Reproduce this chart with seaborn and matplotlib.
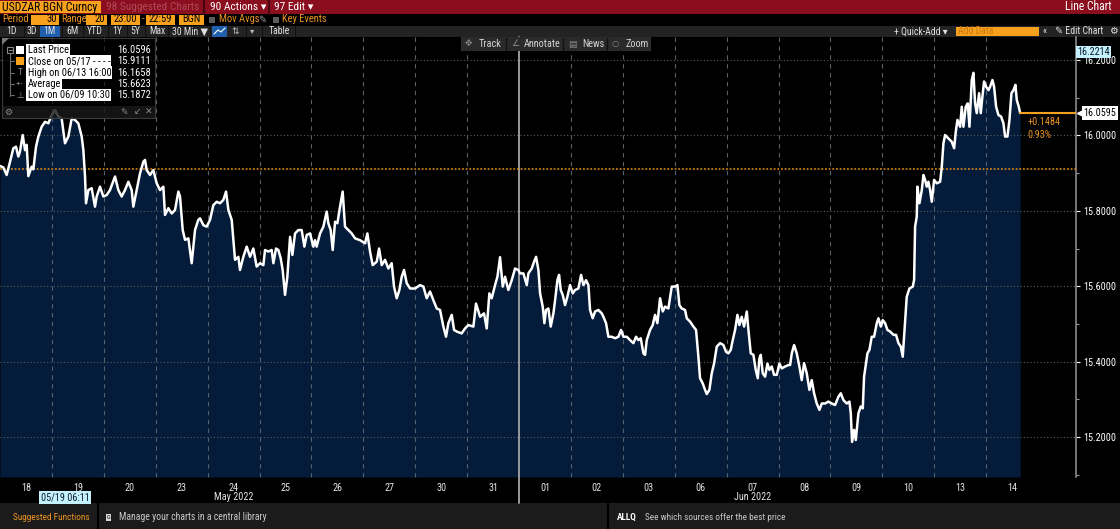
import matplotlib
matplotlib.use("Agg")
import matplotlib.pyplot as plt
import matplotlib.patches as mpatches
import matplotlib.transforms as mtransforms
from matplotlib import font_manager
import numpy as np
import pandas as pd
import seaborn as sns

# ---- data (30 min bars, USDZAR) ----
# time in trading-day slots since 05/18 00:00
t_days = [
    0.000, 0.064, 0.128, 0.193, 0.257, 0.308, 0.353, 0.385, 0.437, 0.482,
    0.514, 0.546, 0.610, 0.642, 0.694, 0.739, 0.803, 0.867, 0.931, 0.996,
    1.060, 1.124, 1.188, 1.252, 1.317, 1.381, 1.445, 1.509, 1.574, 1.606,
    1.638, 1.657, 1.702, 1.766, 1.830, 1.863, 1.927, 1.991, 2.055, 2.119,
    2.216, 2.280, 2.344, 2.408, 2.473, 2.537, 2.569, 2.633, 2.697, 2.762,
    2.794, 2.826, 2.890, 2.954, 3.019, 3.083, 3.147, 3.179, 3.243, 3.308,
    3.372, 3.436, 3.468, 3.520, 3.565, 3.629, 3.693, 3.757, 3.821, 3.854,
    3.918, 3.982, 4.046, 4.110, 4.175, 4.239, 4.303, 4.355, 4.400, 4.464,
    4.528, 4.592, 4.624, 4.688, 4.753, 4.817, 4.881, 4.945, 5.010,
    5.074, 5.106, 5.170, 5.234, 5.267, 5.318, 5.363, 5.408, 5.446, 5.491,
    5.536, 5.588, 5.633, 5.684, 5.748, 5.812, 5.864, 5.909, 5.973, 6.037,
    6.069, 6.101, 6.166, 6.230, 6.294, 6.326, 6.371, 6.410, 6.455, 6.500,
    6.551, 6.602, 6.647, 6.712, 6.776, 6.840, 6.936, 7.033, 7.078, 7.129,
    7.180, 7.258, 7.303, 7.354, 7.418, 7.482, 7.546, 7.591, 7.643, 7.694,
    7.739, 7.784, 7.836, 7.900, 7.996, 8.092, 8.157, 8.221, 8.285, 8.349,
    8.414, 8.478, 8.542, 8.593, 8.638, 8.703, 8.748, 8.812, 8.895, 8.959,
    9.024, 9.120, 9.171, 9.249, 9.325, 9.377, 9.428, 9.473, 9.538, 9.583,
    9.634, 9.685, 9.730, 9.794, 9.859, 9.923, 9.987,
    10.019, 10.084, 10.148, 10.180, 10.244, 10.289, 10.328, 10.373, 10.405, 10.456,
    10.488, 10.520, 10.565, 10.610, 10.662, 10.694, 10.739, 10.771, 10.803, 10.841,
    10.886, 10.931, 10.983, 11.034, 11.079, 11.143, 11.195, 11.240, 11.291, 11.336,
    11.368, 11.419, 11.464, 11.529, 11.593, 11.625, 11.676, 11.721, 11.786, 11.850,
    11.914, 11.965, 12.010, 12.075, 12.139, 12.203, 12.254, 12.299, 12.344, 12.396,
    12.428, 12.460, 12.524, 12.575, 12.620, 12.665, 12.717, 12.768, 12.813, 12.877,
    12.942, 13.006, 13.051, 13.089, 13.134, 13.198, 13.231, 13.295, 13.359, 13.410,
    13.455, 13.487, 13.539, 13.584, 13.616, 13.667, 13.712, 13.757, 13.809, 13.873,
    13.937, 13.988, 14.033, 14.078, 14.117, 14.162, 14.207, 14.245, 14.290, 14.335,
    14.387, 14.419, 14.464, 14.515, 14.560, 14.599, 14.631, 14.656, 14.695, 14.740,
    14.785, 14.823, 14.868, 14.913, 14.965, 15.016, 15.061, 15.125, 15.189,
    15.222, 15.254, 15.299, 15.350, 15.401, 15.446, 15.491, 15.543, 15.594, 15.639,
    15.684, 15.735, 15.787, 15.832, 15.896, 15.960, 16.024, 16.089, 16.153, 16.198,
    16.249, 16.313, 16.365, 16.391, 16.416, 16.455, 16.487, 16.538, 16.583, 16.622,
    16.647, 16.712, 16.750, 16.795, 16.840, 16.892, 16.924, 16.969, 17.007, 17.052,
    17.097, 17.148, 17.213, 17.264, 17.309, 17.354, 17.392, 17.431, 17.469, 17.521,
    17.585, 17.611, 17.630, 17.662, 17.675, 17.714, 17.759, 17.791, 17.823, 17.855,
    17.887, 17.919, 17.951, 17.996, 18.048, 18.112, 18.144, 18.176, 18.208, 18.272,
    18.337, 18.382, 18.414, 18.446, 18.497, 18.529, 18.561, 18.606, 18.645, 18.677,
    18.722, 18.754, 18.786, 18.818, 18.863, 18.895, 18.927, 18.959, 18.998, 19.043,
    19.075, 19.120, 19.152, 19.191, 19.236, 19.287, 19.332, 19.364, 19.409, 19.448,
    19.486, 19.525, 19.563, 19.589, 19.628, 19.653,
]
usdzar = [
    15.919, 15.915, 15.895, 15.930, 15.966, 15.970, 15.944, 15.957, 16.001, 15.961,
    15.975, 15.892, 15.917, 15.910, 15.970, 15.997, 16.023, 16.036, 16.032, 16.054,
    16.067, 16.050, 16.045, 15.979, 15.997, 16.045, 16.041, 16.032, 15.997, 15.961,
    15.891, 15.820, 15.855, 15.860, 15.811, 15.838, 15.864, 15.838, 15.842, 15.855,
    15.891, 15.855, 15.838, 15.855, 15.877, 15.855, 15.811, 15.855, 15.899, 15.930,
    15.935, 15.908, 15.895, 15.908, 15.873, 15.855, 15.864, 15.789, 15.807, 15.793,
    15.802, 15.851, 15.838, 15.749, 15.723, 15.727, 15.661, 15.749, 15.776, 15.780,
    15.762, 15.758, 15.776, 15.815, 15.824, 15.820, 15.829, 15.851, 15.802, 15.776,
    15.670, 15.678, 15.643, 15.678, 15.705, 15.678, 15.700, 15.652, 15.661,
    15.656, 15.696, 15.692, 15.696, 15.661, 15.700, 15.696, 15.674, 15.643, 15.577,
    15.625, 15.731, 15.683, 15.740, 15.749, 15.749, 15.705, 15.736, 15.740, 15.705,
    15.722, 15.705, 15.740, 15.758, 15.798, 15.767, 15.749, 15.696, 15.771, 15.767,
    15.811, 15.851, 15.758, 15.749, 15.740, 15.727, 15.722, 15.714, 15.740, 15.692,
    15.656, 15.665, 15.700, 15.656, 15.670, 15.647, 15.661, 15.599, 15.568, 15.590,
    15.625, 15.643, 15.608, 15.594, 15.594, 15.603, 15.599, 15.568, 15.586, 15.563,
    15.541, 15.537, 15.493, 15.466, 15.502, 15.524, 15.484, 15.479, 15.475, 15.488,
    15.497, 15.493, 15.554, 15.519, 15.528, 15.488, 15.581, 15.568, 15.603, 15.625,
    15.677, 15.599, 15.625, 15.590, 15.616, 15.647, 15.643,
    15.634, 15.634, 15.603, 15.634, 15.647, 15.665, 15.678, 15.643, 15.581, 15.546,
    15.502, 15.537, 15.541, 15.493, 15.528, 15.563, 15.616, 15.630, 15.590, 15.577,
    15.550, 15.572, 15.603, 15.581, 15.590, 15.594, 15.630, 15.603, 15.616, 15.603,
    15.537, 15.515, 15.533, 15.537, 15.528, 15.519, 15.502, 15.466, 15.466, 15.462,
    15.466, 15.484, 15.466, 15.466, 15.457, 15.449, 15.466, 15.457, 15.462, 15.422,
    15.418, 15.457, 15.484, 15.497, 15.524, 15.502, 15.568, 15.533, 15.546, 15.541,
    15.599, 15.599, 15.603, 15.550, 15.541, 15.537, 15.515, 15.506, 15.493, 15.484,
    15.413, 15.356, 15.342, 15.325, 15.314, 15.325, 15.369, 15.395, 15.440, 15.449,
    15.444, 15.426, 15.422, 15.431, 15.457, 15.484, 15.524, 15.497, 15.519, 15.493,
    15.533, 15.484, 15.422, 15.418, 15.378, 15.356, 15.409, 15.418, 15.369, 15.360,
    15.395, 15.378, 15.387, 15.365, 15.365, 15.395, 15.382, 15.387, 15.391,
    15.391, 15.422, 15.444, 15.422, 15.387, 15.351, 15.396, 15.369, 15.325, 15.351,
    15.316, 15.289, 15.272, 15.289, 15.289, 15.294, 15.289, 15.285, 15.307, 15.316,
    15.298, 15.289, 15.294, 15.263, 15.187, 15.219, 15.192, 15.263, 15.281, 15.276,
    15.360, 15.422, 15.431, 15.466, 15.466, 15.502, 15.515, 15.493, 15.510, 15.502,
    15.484, 15.480, 15.471, 15.471, 15.449, 15.440, 15.413, 15.493, 15.572, 15.594,
    15.599, 15.617, 15.758, 15.785, 15.864, 15.820, 15.855, 15.895, 15.882, 15.864,
    15.877, 15.855, 15.824, 15.882, 15.873, 15.877, 15.917, 15.979, 16.001, 15.992,
    15.983, 15.966, 16.010, 16.041, 16.023, 16.076, 16.023, 16.076, 16.085, 16.023,
    16.147, 16.166, 16.085, 16.059, 16.112, 16.059, 16.103, 16.143, 16.129, 16.120,
    16.129, 16.147, 16.129, 16.076, 16.054, 16.050, 16.032, 15.997, 15.997, 16.041,
    16.112, 16.120, 16.134, 16.094, 16.076, 16.0595,
]
assert len(t_days) == len(usdzar)

day_labels = ['18', '19', '20', '23', '24', '25', '26', '27', '30', '31',
              '01', '02', '03', '06', '07', '08', '09', '10', '13', '14']
month_labels = [('May 2022', 4.5), ('Jun 2022', 14.5)]
price_ticks = [15.2, 15.4, 15.6, 15.8, 16.0, 16.2]
close_0517 = 15.9111
last_price = 16.0595
range_top = 16.2214
legend_labels = ['Last Price', 'Close on 05/17 - - - -', 'High on 06/13 16:00', 'Average', 'Low on 06/09 10:30']
legend_values = ['16.0596', '15.9111', '16.1658', '15.6623', '15.1872']
change_abs = '+0.1484'
change_pct = '0.93%'
cursor_time = 1 + (6 + 11 / 60) / 24   # 05/19 06:11

# ---- style ----
sns.set_theme(style="dark")
have = {f.name for f in font_manager.fontManager.ttflist}
fams = [f for f in ['Liberation Sans Narrow', 'Roboto Condensed'] if f in have]
plt.rcParams['font.family'] = fams + ['DejaVu Sans']

RED = '#8a0e1d'
ORANGE = '#f7a11c'
ORANGE_TXT = '#eb9422'
NAVY = '#041c3a'
BAR = '#232323'
FOOT = '#1b1b1b'

W, H = 1120, 529
fig = plt.figure(figsize=(11.2, 5.29), dpi=100, facecolor='black')

base = fig.add_axes([0, 0, 1, 1], zorder=0)
base.set_xlim(0, W)
base.set_ylim(H, 0)
base.axis('off')

# ---- main chart ----
ax = fig.add_axes([0, 1 - 477 / H, 1076 / W, 440 / H], zorder=1)
ax.set_facecolor('black')
df = pd.DataFrame({'t': t_days, 'px': usdzar})
ymin, ymax = 15.094, 16.261
ax.fill_between(df['t'], df['px'], ymin, color=NAVY, lw=0, zorder=1)
sns.lineplot(data=df, x='t', y='px', color='white', lw=1.8, estimator=None,
             sort=False, ax=ax, zorder=5)
ax.set_xlim(0, 20.73)
ax.set_ylim(ymin, ymax)
ax.set_xlabel('')
ax.set_ylabel('')
ax.grid(False)

for p in price_ticks:
    ax.axhline(p, color='#5c5c5c', lw=0.8, ls=(0, (1, 2)), zorder=2)
for i in range(1, 20):
    if i == 10:
        ax.axvline(i, ymin=-26 / 440, ymax=1, color='#9a9a9a', lw=1.4, zorder=3, clip_on=False)
    else:
        ax.axvline(i, color='#56606c', lw=0.8, ls=(0, (4, 4)), zorder=2)

ax.axhline(close_0517, color='#e8901a', lw=1.1, ls=(0, (1.2, 1.2)), zorder=3)
ax.plot([t_days[-1], 20.73], [last_price, last_price], color='#f5a01e', lw=1.5, zorder=6)
ax.annotate(change_abs, xy=(t_days[-1], last_price), xytext=(5, -3),
            textcoords='offset points', va='top', ha='left', fontsize=7.3, color=ORANGE_TXT)
ax.annotate(change_pct, xy=(t_days[-1], last_price), xytext=(5, -12),
            textcoords='offset points', va='top', ha='left', fontsize=7.3, color=ORANGE_TXT)

# right price axis
ax.yaxis.tick_right()
ax.set_yticks(price_ticks)
ax.set_yticklabels([f'{p:.4f}' for p in price_ticks])
ax.set_yticks(np.arange(15.1, 16.25, 0.2), minor=True)
ax.tick_params(axis='y', which='both', right=True, left=False, labelright=True, labelleft=False,
               colors='white', labelsize=7.3, length=3, width=0.8, pad=2)
ax.tick_params(axis='y', which='minor', length=2, colors='#9a9a9a')

# date axis
ax.set_xticks(np.arange(len(day_labels)) + 0.5)
ax.set_xticklabels(day_labels)
ax.set_xticks(np.arange(1, 20), minor=True)
ax.tick_params(axis='x', which='major', bottom=True, length=0, pad=4, labelsize=7.3, labelcolor='#e4e4e4')
ax.tick_params(axis='x', which='minor', bottom=True, direction='in', length=3, width=0.8, color='#7d8894')
for s in ['top', 'left', 'bottom']:
    ax.spines[s].set_visible(False)
ax.spines['right'].set_color('#8a8a8a')
ax.spines['right'].set_linewidth(1.2)

xblend = mtransforms.blended_transform_factory(ax.transData, ax.transAxes)
for name, pos in month_labels:
    ax.text(pos, -0.046, name, transform=xblend, ha='center', va='center', fontsize=7.3, color='#e4e4e4')
ax.text(cursor_time, -0.046, '05/19 06:11', transform=xblend, ha='center', va='center', fontsize=7.3,
        color='#0a1a2a', bbox=dict(facecolor='#c5f1ff', edgecolor='none', pad=1.2))

yblend = mtransforms.blended_transform_factory(ax.transAxes, ax.transData)
ax.text(1.001, range_top, f'{range_top:.4f}', transform=yblend, ha='left', va='center', fontsize=7.3,
        color='#0a1a2a', bbox=dict(facecolor='#c5f1ff', edgecolor='none', pad=1.0), clip_on=False)
ax.plot([1.004], [last_price], marker='<', ms=5, color='white', transform=yblend, clip_on=False, zorder=7)
ax.text(1.007, last_price, f'{last_price:.4f}', transform=yblend, ha='left', va='center', fontsize=7.3,
        color='black', bbox=dict(facecolor='white', edgecolor='none', pad=1.3), clip_on=False, zorder=7)

# ---- overlay (terminal chrome drawn in pixel space) ----
top = fig.add_axes([0, 0, 1, 1], zorder=2)
top.set_xlim(0, W)
top.set_ylim(H, 0)
top.axis('off')


def txt(a, x, y, s, color='white', size=7, **kw):
    a.text(x, y, s, color=color, fontsize=size, va='center', **kw)


def box(a, x0, x1, y0, y1, color, **kw):
    a.add_patch(mpatches.Rectangle((x0, y0), x1 - x0, y1 - y0, facecolor=color, edgecolor='none', **kw))


# header row 1
box(base, 0, W, 0, 13.5, RED)
box(base, 0, 101, 0.5, 13, ORANGE)
txt(base, 2, 7, 'USDZAR BGN Curncy', color='black', size=8.4)
txt(base, 106, 7, '98 Suggested Charts', color='#b0495a', size=8.2)
base.plot([204, 204], [0, 13.5], color='#4a0610', lw=1.5)
base.plot([269, 269], [0, 13.5], color='#4a0610', lw=1.5)
txt(base, 210, 7, '90 Actions ▾', size=8.2)
txt(base, 274, 7, '97 Edit ▾', size=8.2)
txt(base, 1112, 7, 'Line Chart', size=8.4, ha='right')

# header row 2
txt(base, 2, 19.5, 'Period', color=ORANGE_TXT, size=7.6)
for x0, x1, s in [(31, 59, '30'), (86, 107, '20')]:
    box(base, x0, x1, 14.5, 24.5, ORANGE)
    txt(base, x1 - 2, 19.5, s, color='black', ha='right', size=7.6)
txt(base, 61, 19.5, 'Range', color=ORANGE_TXT, size=7.6)
for x0, x1, s in [(111, 140, '23:00'), (146, 175, '22:59'), (179, 204, 'BGN')]:
    box(base, x0, x1, 14.5, 24.5, ORANGE)
    txt(base, (x0 + x1) / 2, 19.5, s, color='black', ha='center', size=7.6)
txt(base, 143.5, 19.5, '-', color=ORANGE_TXT, ha='center', size=7.6)
box(base, 209, 215, 16.5, 22.5, '#5c5c5c')
txt(base, 219, 19.5, 'Mov Avgs', color=ORANGE_TXT, size=7.6)
txt(base, 258, 19.5, '✎', color='#9a9a9a')
box(base, 273, 279, 16.5, 22.5, '#5c5c5c')
txt(base, 282, 19.5, 'Key Events', color=ORANGE_TXT, size=7.6)

# header row 3
box(base, 0, W, 25.5, 37, BAR)
box(base, 40, 60, 26, 36.5, '#1f5fae')
for x, s in [(6, '1D'), (27, '3D'), (43, '1M'), (66, '6M'), (87, 'YTD'), (112, '1Y'),
             (130, '5Y'), (149, 'Max'), (172, '30 Min ▼'), (269, 'Table')]:
    txt(base, x, 31.3, s, color='#e0e0e0', size=7)
box(base, 212, 227, 26, 36.5, '#1f5fae')
base.plot([214, 218, 221, 225], [34, 30, 32, 28], color='white', lw=0.8)
txt(base, 231, 31.3, '⇅', color='#bdbdbd', size=6.5)
txt(base, 250, 31.3, '▾', color='#bdbdbd', size=6)
for x in [24, 62, 83, 108, 127, 145, 168, 210, 246, 262, 295]:
    base.plot([x, x], [26, 36.5], color='#111111', lw=0.8)
txt(base, 894, 31.3, '+ Quick-Add ▾', color='#e0e0e0', size=7)
box(base, 956, 1039, 26.5, 36, ORANGE)
txt(base, 958, 31.3, 'Add Data', color='#c9780e', size=7)
txt(base, 1043, 31.3, '«', color='#e0e0e0', size=7)
txt(base, 1055, 31.3, '✎ Edit Chart', color='#e0e0e0', size=7)
txt(base, 1109, 31.3, '⚙', color='#e0e0e0', size=7)

# footer
box(base, 0, W, 503, H, FOOT)
base.plot([98, 98], [503, H], color='black', lw=1.5)
base.plot([608, 608], [503, H], color='black', lw=1.5)
txt(base, 13, 517.5, 'Suggested Functions', color=ORANGE_TXT, size=6.7)
txt(base, 107, 517.5, 'G', color='black', size=4.5,
    bbox=dict(facecolor='#d8d8d8', edgecolor='none', pad=0.6))
txt(base, 119, 517.5, 'Manage your charts in a central library', color='#c8c8c8', size=7)
txt(base, 617, 517.5, 'ALLQ', color='white', size=6.7, fontweight='bold')
txt(base, 645, 517.5, 'See which sources offer the best price', color='#c8c8c8', size=6.7)

# chart toolbar (Track / Annotate / News / Zoom)
box(top, 461, 651, 37, 51, '#2a2a2a')
for x in [506, 563, 607]:
    top.plot([x, x], [38, 50], color='#111111', lw=1)
txt(top, 465, 44, '✥', color='#8a8a8a', size=6.5)
txt(top, 479, 44, 'Track', color='#d4d4d4', size=7.4)
txt(top, 511, 44, '∠', color='#8a8a8a', size=6.5)
txt(top, 524, 44, 'Annotate', color='#d4d4d4', size=7.4)
txt(top, 568, 44, '▤', color='#8a8a8a', size=6.5)
txt(top, 582, 44, 'News', color='#d4d4d4', size=7.4)
txt(top, 612, 44, '○', color='#8a8a8a', size=6)
txt(top, 625, 44, 'Zoom', color='#d4d4d4', size=7.4)

# legend panel
box(top, 2, 155, 38, 118, 'black', alpha=0.6)
box(top, 2, 155, 106, 118, '#262626', alpha=0.55)
top.add_patch(mpatches.Rectangle((2, 38), 153, 80, fill=False, edgecolor='#3a3a3a', lw=0.8))
top.add_patch(mpatches.Polygon([(2, 38), (9, 38), (2, 45)], closed=True, facecolor='#7a7a7a', edgecolor='none'))
rows_y = [50, 61.3, 72.5, 83.8, 95]
top.plot([10, 10], [53, 96], color='#6c6c6c', lw=0.8)
for y in rows_y[1:]:
    top.plot([10, 14], [y, y], color='#6c6c6c', lw=0.8)
top.add_patch(mpatches.Rectangle((7, 47), 6, 6, fill=False, edgecolor='#8a8a8a', lw=0.8))
top.plot([8.5, 11.5], [50, 50], color='#8a8a8a', lw=0.8)
box(top, 16, 24, 46, 54, 'white')
box(top, 16, 24, 57.3, 65.3, ORANGE)
txt(top, 20, rows_y[2], 'T', color='#8a8a8a', size=6.5, ha='center')
txt(top, 20, rows_y[3], '-+-', color='#8a8a8a', size=5.5, ha='center')
txt(top, 20, rows_y[4], '⊥', color='#8a8a8a', size=6.5, ha='center')
for y, lab, val in zip(rows_y, legend_labels, legend_values):
    txt(top, 27.5, y, lab, color='black', size=7.5,
        bbox=dict(facecolor='white', edgecolor='none', pad=0.8))
    txt(top, 151, y, val, color='white', size=7.6, ha='right')
txt(top, 8, 112, '⚙', color='#8a8a8a', size=6.5, ha='center')
txt(top, 124, 112, '✎', color='#8a8a8a', size=6.5, ha='center')
txt(top, 137, 112, '↙', color='#8a8a8a', size=6.5, ha='center')
txt(top, 149, 112, '✕', color='#8a8a8a', size=6.5, ha='center')

fig.savefig('out.png', dpi=100, facecolor='black')
